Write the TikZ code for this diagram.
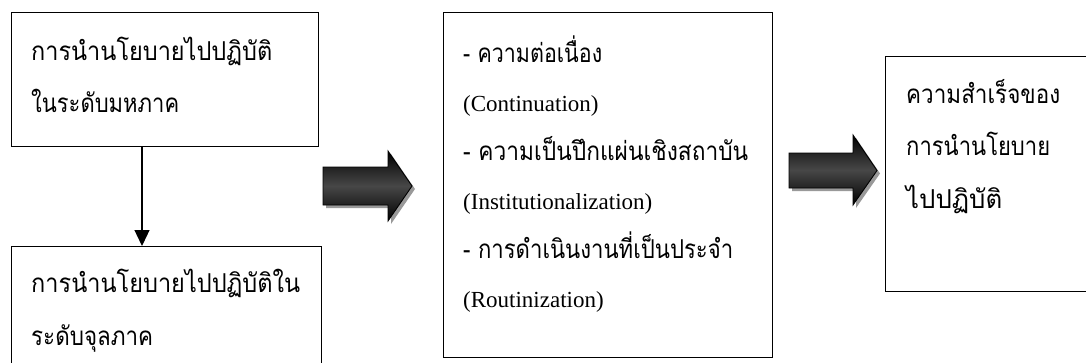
\documentclass[tikz,border=0pt]{standalone}
\usepackage{graphicx}
\usepackage{fontspec}
\setmainfont{Liberation Serif}
\newfontfamily\thaifont[Script=Thai]{Loma}
\usetikzlibrary{arrows.meta}
\newcommand\tline[2]{\resizebox{#1pt}{\height}{\thaifont\fontsize{26}{30}\selectfont #2}}
\tikzset{
 box/.style={draw=black, line width=1.2pt, anchor=north west, inner sep=0pt},
 txt/.style={anchor=base west, inner sep=0pt},
 eng/.style={txt, font=\fontsize{23}{27}\selectfont},
 blockarrow/.style={draw=black, line width=0.9pt, top color=black, bottom color=black, middle color=black!72},
 blockshadow/.style={fill=black!40, draw=none},
 link/.style={line width=1.3pt, -{Triangle[width=15pt,length=16pt]}}
}
\begin{document}
\begin{tikzpicture}[x=1pt,y=-1pt]
\useasboundingbox (0,0) rectangle (1086,362);
\clip (0,0) rectangle (1086,362);
\node[box, minimum width=307pt, minimum height=134pt] (b1) at (11,12) {};
\node[box, minimum width=310pt, minimum height=140pt] (b2) at (11,246) {};
\node[box, minimum width=329pt, minimum height=345pt] (b3) at (443,12) {};
\node[box, minimum width=240pt, minimum height=235pt] (b4) at (885,56) {};
\node[txt] (t11) at (31,60) {\tline{241}{การนำนโยบายไปปฏิบัติ}};
\node[txt] (t12) at (31,112) {\tline{148}{ในระดับมหภาค}};
\node[txt] (t21) at (31,292) {\tline{269}{การนำนโยบายไปปฏิบัติใน}};
\node[txt] (t22) at (31,345) {\tline{122}{ระดับจุลภาค}};
\node[txt] (t31) at (463,62) {\tline{139}{- ความต่อเนื่อง}};
\node[eng] (t32) at (463,111) {(Continuation)};
\node[txt] (t33) at (463,160) {\tline{285}{- ความเป็นปึกแผ่นเชิงสถาบัน}};
\node[eng] (t34) at (463,209) {(Institutionalization)};
\node[txt] (t35) at (463,258) {\tline{270}{- การดำเนินงานที่เป็นประจำ}};
\node[eng] (t36) at (463,307) {(Routinization)};
\node[txt] (t41) at (906,103) {\tline{154}{ความสำเร็จของ}};
\node[txt] (t42) at (906,155) {\tline{144}{การนำนโยบาย}};
\node[txt] (t43) at (906,208) {\tline{96}{ไปปฏิบัติ}};
\coordinate (ax) at (142,0);
\draw[link] (b1.south -| ax) -- (b2.north -| ax);
\fill[blockshadow] (326,170) -- (391,170) -- (391,154) -- (415,189) -- (391,224) -- (391,208) -- (326,208) -- cycle;
\path[blockarrow] (323,167) -- (388,167) -- (388,151) -- (412,186) -- (388,221) -- (388,205) -- (323,205) -- cycle;
\fill[blockshadow] (792,156) -- (856,156) -- (856,138) -- (880,173.5) -- (856,208) -- (856,191) -- (792,191) -- cycle;
\path[blockarrow] (789,153) -- (853,153) -- (853,135) -- (877,170.5) -- (853,205) -- (853,188) -- (789,188) -- cycle;
\end{tikzpicture}
\end{document}
